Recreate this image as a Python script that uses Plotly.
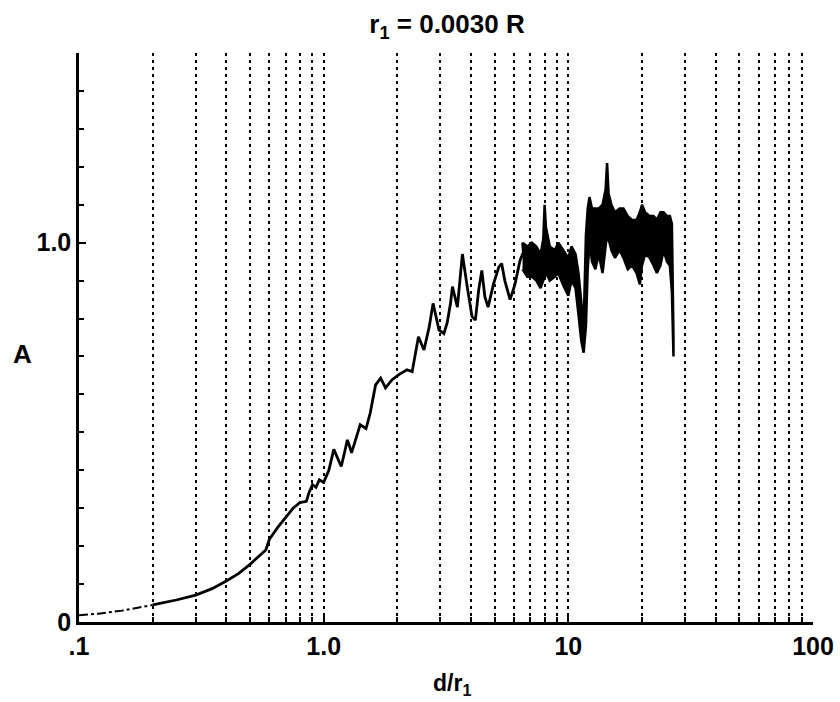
import plotly.graph_objects as go

# ---- data ----
curve_d = [0.10, 0.12, 0.15, 0.18, 0.20, 0.25, 0.30, 0.35, 0.40, 0.45, 0.50, 0.55, 0.58, 0.60,
           0.65, 0.70, 0.75, 0.80, 0.85, 0.87, 0.90, 0.93, 0.96, 1.00, 1.05, 1.10, 1.14, 1.18,
           1.22, 1.25, 1.28, 1.30, 1.35, 1.41, 1.49, 1.55, 1.63, 1.71, 1.79, 1.90, 2.03, 2.19,
           2.30, 2.44, 2.57, 2.70, 2.80, 2.96, 3.10, 3.20, 3.30, 3.36, 3.52, 3.69, 3.86, 4.04,
           4.17, 4.30, 4.43, 4.56, 4.70, 4.94, 5.20, 5.34, 5.50, 5.78, 6.05, 6.35, 6.55]
curve_a = [0.018, 0.022, 0.030, 0.039, 0.045, 0.058, 0.071, 0.088, 0.108, 0.128, 0.152, 0.175, 0.19, 0.218,
           0.25, 0.276, 0.30, 0.315, 0.318, 0.34, 0.362, 0.355, 0.375, 0.368, 0.40, 0.455, 0.43, 0.41,
           0.45, 0.48, 0.46, 0.446, 0.48, 0.52, 0.51, 0.551, 0.625, 0.643, 0.617, 0.638, 0.652, 0.665,
           0.66, 0.752, 0.717, 0.778, 0.84, 0.77, 0.76, 0.79, 0.84, 0.884, 0.83, 0.97, 0.884, 0.805,
           0.796, 0.875, 0.927, 0.857, 0.83, 0.89, 0.936, 0.945, 0.90, 0.85, 0.89, 0.954, 0.975]

# noisy band (upper / lower envelope) for d >= 6.5
band_d = [6.5, 6.8, 7.1, 7.4, 7.7, 7.9, 8.0, 8.1, 8.4, 8.8, 9.1, 9.5, 10.0, 10.3, 10.7, 11.0, 11.3,
          11.55, 11.8, 12.0, 12.2, 12.5, 12.9, 13.3, 13.8, 14.2, 14.4, 14.6, 15.0, 15.5, 16.2, 16.8,
          17.5, 18.2, 19.0, 19.6, 20.0, 20.6, 21.5, 22.3, 23.0, 23.8, 24.5, 25.3, 26.0, 26.5, 26.9]
band_hi = [1.00, 0.99, 1.00, 0.99, 0.97, 1.01, 1.10, 1.04, 0.99, 0.98, 1.00, 0.98, 0.96, 0.99, 0.97, 0.92, 0.84,
           0.78, 1.02, 1.09, 1.12, 1.09, 1.09, 1.09, 1.10, 1.14, 1.21, 1.13, 1.10, 1.08, 1.09, 1.09,
           1.07, 1.06, 1.06, 1.08, 1.10, 1.08, 1.07, 1.07, 1.06, 1.08, 1.08, 1.07, 1.07, 1.05, 0.75]
band_lo = [0.93, 0.91, 0.91, 0.90, 0.88, 0.90, 0.91, 0.92, 0.90, 0.91, 0.92, 0.89, 0.86, 0.90, 0.88, 0.81, 0.74,
           0.71, 0.78, 0.93, 1.00, 0.95, 0.93, 0.97, 0.92, 0.99, 1.02, 1.01, 0.98, 0.96, 0.98, 0.96,
           0.93, 0.94, 0.92, 0.89, 0.94, 0.97, 0.96, 0.94, 0.92, 0.94, 0.98, 0.95, 0.94, 0.87, 0.70]

x_major = [0.1, 1, 10, 100]
x_major_text = [".1", "1.0", "10", "100"]
x_minor = [0.2, 0.3, 0.4, 0.5, 0.6, 0.7, 0.8, 0.9,
           2, 3, 4, 5, 6, 7, 8, 9,
           20, 30, 40, 50, 60, 70, 80, 90]
y_major = [0, 1.0]
y_major_text = ["0", "1.0"]
y_minor = [0.1, 0.2, 0.3, 0.4, 0.5, 0.6, 0.7, 0.8, 0.9, 1.1, 1.2, 1.3, 1.4, 1.5]

FONT = "Liberation Sans"
GRID = dict(gridcolor="black", gridwidth=2.2, griddash="3px,4px")

fig = go.Figure()

# thin dash-dot start
fig.add_trace(go.Scatter(x=curve_d[:5], y=curve_a[:5], mode="lines",
                         line=dict(color="black", width=2, dash="dashdot"),
                         showlegend=False, hoverinfo="skip"))
fig.add_trace(go.Scatter(x=curve_d[4:] + band_d[:1], y=curve_a[4:] + band_hi[:1], mode="lines",
                         line=dict(color="black", width=2.8),
                         showlegend=False, hoverinfo="skip"))
# band polygon
fig.add_trace(go.Scatter(x=band_d + band_d[::-1], y=band_hi + band_lo[::-1], mode="lines",
                         fill="toself", fillcolor="black",
                         line=dict(color="black", width=2.5),
                         showlegend=False, hoverinfo="skip"))

fig.update_layout(
    width=840, height=702,
    margin=dict(l=79, r=27, t=53, b=80),
    paper_bgcolor="white", plot_bgcolor="white",
    font=dict(family=FONT, color="black"),
    title=dict(text="r<sub>1</sub> = 0.0030 R", x=447 / 840, xref="container", xanchor="center",
               y=1 - 24 / 702, yanchor="middle",
               font=dict(family=FONT, size=26, weight="bold", color="black")),
    xaxis=dict(type="log", range=[-1, 2],
               tickmode="array", tickvals=x_major, ticktext=x_major_text,
               ticks="inside", ticklen=6, tickwidth=2, tickcolor="black",
               tickfont=dict(family=FONT, size=25, weight="bold"),
               showgrid=True, **GRID,
               minor=dict(tickmode="array", tickvals=x_minor, ticks="inside", ticklen=5,
                          tickwidth=2, tickcolor="black", showgrid=True, **GRID),
               showline=True, linecolor="black", linewidth=2.5,
               zeroline=False, automargin=False),
    yaxis=dict(range=[0, 1.5],
               tickmode="array", tickvals=y_major, ticktext=y_major_text,
               ticks="inside", ticklen=7, tickwidth=2, tickcolor="black",
               tickfont=dict(family=FONT, size=25, weight="bold"),
               minor=dict(tickmode="array", tickvals=y_minor, ticks="inside", ticklen=5,
                          tickwidth=2, tickcolor="black", showgrid=False),
               showgrid=False, zeroline=False, automargin=False,
               showline=True, linecolor="black", linewidth=2.5),
    annotations=[
        dict(text="A", xref="paper", yref="paper", x=(22 - 79) / 734, y=(622 - 354) / 569,
             xanchor="center", yanchor="middle", showarrow=False,
             font=dict(family=FONT, size=26, weight="bold")),
        dict(text="d/r<sub>1</sub>", xref="paper", yref="paper", x=(452 - 79) / 734,
             y=-(684 - 622) / 569, xanchor="center", yanchor="middle", showarrow=False,
             font=dict(family=FONT, size=23, weight="bold")),
    ],
)

fig.write_html("out.html", config={"displayModeBar": False},
               post_script="document.body.style.margin='0';")
